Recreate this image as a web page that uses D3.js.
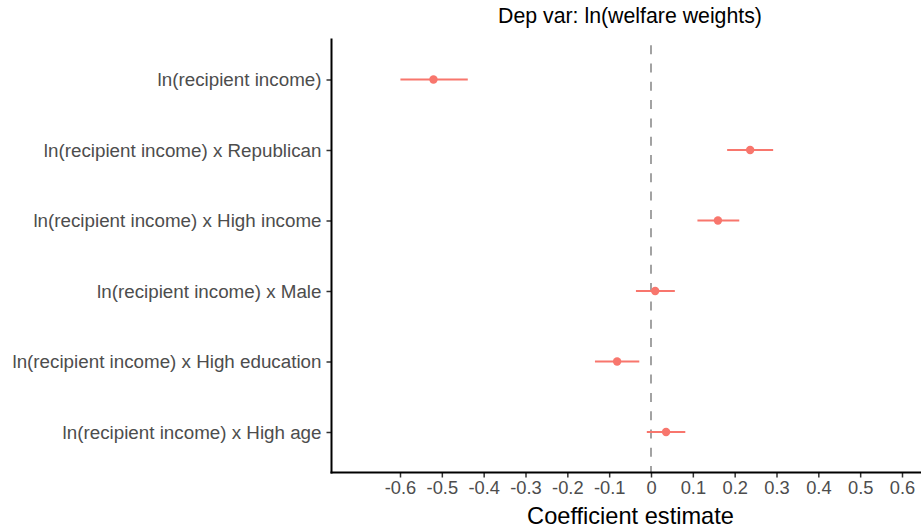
<!DOCTYPE html>
<html>
<head>
<meta charset="utf-8">
<script src="https://cdn.jsdelivr.net/npm/d3@7"></script>
<style>
body{margin:0;background:#fff;}
svg text{font-family:"Liberation Sans",Arial,sans-serif;}
</style>
</head>
<body>
<div id="chart"></div>
<script>
// coefficient estimates
var terms=["ln(recipient income)","ln(recipient income) x Republican","ln(recipient income) x High income","ln(recipient income) x Male","ln(recipient income) x High education","ln(recipient income) x High age"];
var estimates=[-0.520,0.237,0.160,0.010,-0.081,0.036];
var ciLow=[-0.599,0.182,0.111,-0.036,-0.134,-0.010];
var ciHigh=[-0.438,0.292,0.211,0.057,-0.028,0.082];
var xTicks=[-0.6,-0.5,-0.4,-0.3,-0.2,-0.1,0,0.1,0.2,0.3,0.4,0.5,0.6];

var width=921,height=529;
var plotLeft=331.5,plotRight=921,plotTop=38.5,plotBottom=472.5;
var red="#F8766D";

var svg=d3.select("#chart").append("svg")
	.attr("width",width)
	.attr("height",height);

// x: 0 at 651, 0.1 per ~41.85px
var x=d3.scaleLinear().domain([-0.6,0.6]).range([400,902]);
var y=d3.scalePoint().domain(terms).range([79.5,432]);

// zero reference line
svg.append("line")
	.attr("x1",x(0)).attr("x2",x(0))
	.attr("y1",plotTop).attr("y2",plotBottom)
	.attr("stroke","#999")
	.attr("stroke-width",1.8)
	.attr("stroke-dasharray","9,9.3")
	.attr("stroke-dashoffset",11.6);

// axes
var xAxis=svg.append("g").attr("transform","translate(0,"+plotBottom+")")
	.call(d3.axisBottom(x).tickValues(xTicks).tickSize(5).tickPadding(4)
		.tickFormat(function(d){return d===0?"0":(d<0?"-":"")+Math.abs(d).toFixed(1);}));
xAxis.select(".domain").remove();
xAxis.selectAll(".tick line").attr("stroke","#333").attr("stroke-width",1.5);
xAxis.selectAll("text").attr("fill","#4d4d4d").style("font-size","18.3px");

var yAxis=svg.append("g").attr("transform","translate("+plotLeft+",0)")
	.call(d3.axisLeft(y).tickSize(5).tickPadding(5));
yAxis.select(".domain").remove();
yAxis.selectAll(".tick line").attr("stroke","#333").attr("stroke-width",1.5);
yAxis.selectAll("text").attr("fill","#4d4d4d").style("font-size","18.8px");

svg.append("line").attr("x1",plotLeft).attr("x2",plotLeft).attr("y1",plotTop).attr("y2",plotBottom+1)
	.attr("stroke","#000").attr("stroke-width",2);
svg.append("line").attr("x1",plotLeft-1).attr("x2",plotRight).attr("y1",plotBottom).attr("y2",plotBottom)
	.attr("stroke","#000").attr("stroke-width",2);

// error bars and points
var g=svg.append("g");
g.selectAll("line.ci").data(terms).enter().append("line")
	.attr("class","ci")
	.attr("x1",function(d,i){return x(ciLow[i]);})
	.attr("x2",function(d,i){return x(ciHigh[i]);})
	.attr("y1",function(d){return y(d);})
	.attr("y2",function(d){return y(d);})
	.attr("stroke",red)
	.attr("stroke-width",2.2);
g.selectAll("circle").data(terms).enter().append("circle")
	.attr("cx",function(d,i){return x(estimates[i]);})
	.attr("cy",function(d){return y(d);})
	.attr("r",4.2)
	.attr("fill",red);

// titles
svg.append("text").attr("x",630).attr("y",23)
	.attr("text-anchor","middle").attr("fill","#000")
	.style("font-size","21.3px")
	.text("Dep var: ln(welfare weights)");
svg.append("text").attr("x",630.5).attr("y",524)
	.attr("text-anchor","middle").attr("fill","#000")
	.style("font-size","23.6px")
	.text("Coefficient estimate");
</script>
</body>
</html>
